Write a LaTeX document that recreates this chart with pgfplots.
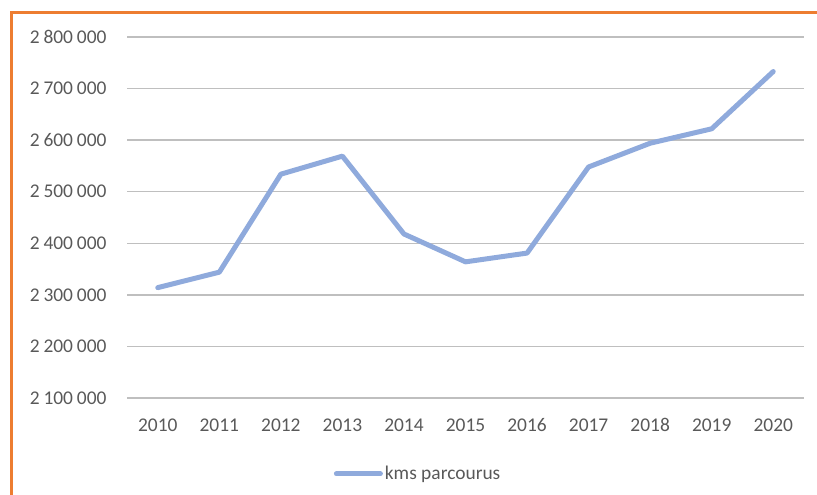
\documentclass[border=0pt]{standalone}
\usepackage{pgfplots}
\pgfplotsset{compat=1.18}
\usepackage{fontspec}
\setmainfont{Carlito}
\definecolor{txt}{HTML}{595959}
\definecolor{grid}{HTML}{D9D9D9}
\definecolor{ln}{HTML}{8FAADC}
\definecolor{frame}{HTML}{ED7D31}
\begin{document}
\begin{tikzpicture}[x=1bp,y=1bp]
\useasboundingbox (0,0) rectangle (817,495);
\draw[frame, line width=3bp] (11.5,0) -- (11.5,482) -- (817,482);
\begin{axis}[
  at={(127bp,97bp)}, anchor=south west,
  scale only axis, width=677bp, height=361bp,
  xmin=-0.5, xmax=10.5, ymin=2100000, ymax=2800000,
  xtick={0,...,10},
  xticklabels={2010,2011,2012,2013,2014,2015,2016,2017,2018,2019,2020},
  ytick={2100000,2200000,2300000,2400000,2500000,2600000,2700000,2800000},
  scaled y ticks=false,
  /pgf/number format/assume math mode=true,
  yticklabel style={/pgf/number format/fixed,/pgf/number format/1000 sep={\hspace{0.2em}}},
  xmajorgrids=false, ymajorgrids=true, grid style={grid, line width=1.3bp},
  axis line style={draw=none},
  major tick length=0pt,
  tick style={draw=none},
  tick label style={font=\fontsize{19.5}{22}\selectfont, text=txt},
  yticklabel style={xshift=-17bp},
  xticklabel style={yshift=-17bp},
  legend style={at={(0.43,-0.21)}, anchor=center, draw=none, fill=none,
    font=\fontsize{19.5}{22}\selectfont, text=txt, inner sep=0pt},
  legend cell align=left,
  legend image code/.code={\draw[#1, line cap=round] (0bp,0bp) -- (44bp,0bp);},
]
\addplot[ln, line width=5bp, line join=round, line cap=round] coordinates {
(0,2314000) (1,2344000) (2,2534000) (3,2569000) (4,2418000) (5,2364000)
(6,2381000) (7,2548000) (8,2594000) (9,2622000) (10,2733000)};
\addlegendentry{kms parcourus}
\end{axis}
\end{tikzpicture}
\end{document}
